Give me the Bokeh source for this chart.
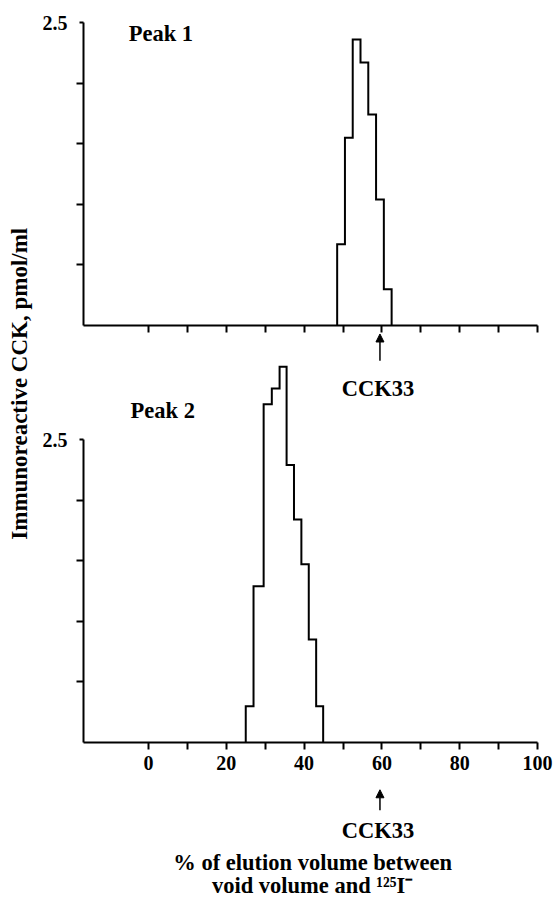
import math
from bokeh.plotting import figure
from bokeh.models import Range1d, LinearAxis, FixedTicker, Label, Arrow, NormalHead
from bokeh.embed import file_html
from bokeh.resources import INLINE

# ---- data ----
peak1_edges = [48.5, 50.5, 52.5, 54.5, 56.5, 58.5, 60.5, 62.5]
peak1_values = [0.67, 1.55, 2.36, 2.17, 1.74, 1.04, 0.30]
peak2_edges = [25.0, 27.0, 29.6, 31.7, 33.7, 35.5, 37.4, 39.3, 41.2, 43.1, 44.9]
peak2_values = [0.30, 1.29, 2.79, 2.92, 3.10, 2.29, 1.84, 1.47, 0.85, 0.30]
cck33_position = 59.5
x_major_ticks = [0, 20, 40, 60, 80, 100]
x_minor_ticks = [10, 30, 50, 70, 90]
x_all_ticks = [0, 10, 20, 30, 40, 50, 60, 70, 80, 90, 100]
y_major_ticks = [2.5]
y_minor_ticks = [0.5, 1.0, 1.5, 2.0]

FONT = "Liberation Serif"
TEXT_SIZE = "22.5px"
X_LEFT = -16.7
PX_X = 3.89     # px per x unit
PX_Y = 121.2    # px per y unit

W, H = 553, 899
# frame == whole canvas; canvas origin at page (0, 0)
x0 = (0 - 148) / PX_X
x1 = (W - 148) / PX_X
yb0 = (742 - H) / PX_Y
yb1 = 742 / PX_Y
yt0 = (325 - H) / PX_Y
yt1 = 325 / PX_Y

p = figure(width=W, height=H, output_backend="svg", toolbar_location=None,
           x_axis_location=None, y_axis_location=None, min_border=0, title=None,
           x_range=Range1d(x0, x1), y_range=Range1d(yb0, yb1))
p.extra_y_ranges = {"top": Range1d(yt0, yt1)}
p.outline_line_color = None
p.background_fill_color = "white"
p.border_fill_color = "white"
p.xgrid.visible = False
p.ygrid.visible = False
for r in list(p.center):
    try:
        r.visible = False
    except Exception:
        pass


def style_axis(ax, major_out, minor_out):
    ax.axis_line_width = 2
    ax.axis_line_color = "black"
    ax.major_tick_line_width = 2
    ax.minor_tick_line_width = 2
    ax.major_tick_line_color = "black"
    ax.minor_tick_line_color = "black"
    ax.major_tick_in = 0
    ax.minor_tick_in = 0
    ax.major_tick_out = major_out
    ax.minor_tick_out = minor_out
    ax.major_label_text_font = FONT
    ax.major_label_text_font_style = "bold"
    ax.major_label_text_font_size = "20px"
    ax.major_label_text_color = "black"


# bottom panel x axis
xb = LinearAxis(ticker=FixedTicker(ticks=x_major_ticks, minor_ticks=x_minor_ticks),
                fixed_location=0, bounds=(X_LEFT, 100))
style_axis(xb, 7, 7)
xb.major_label_standoff = 6
p.add_layout(xb, "below")

# top panel x axis (no labels)
xt = LinearAxis(y_range_name="top", ticker=FixedTicker(ticks=x_all_ticks),
                fixed_location=0, bounds=(X_LEFT, 100))
style_axis(xt, 7, 7)
xt.major_label_text_color = None
p.add_layout(xt, "below")

# y axes
yb = LinearAxis(ticker=FixedTicker(ticks=y_major_ticks, minor_ticks=y_minor_ticks),
                fixed_location=X_LEFT, bounds=(0, 2.5))
style_axis(yb, 4, 7)
yb.major_label_standoff = 9
p.add_layout(yb, "left")

yt = LinearAxis(y_range_name="top",
                ticker=FixedTicker(ticks=y_major_ticks, minor_ticks=y_minor_ticks),
                fixed_location=X_LEFT, bounds=(0, 2.5))
style_axis(yt, 4, 7)
yt.major_label_standoff = 9
p.add_layout(yt, "left")


def step_path(edges, values):
    xs = [edges[0]] + list(edges)
    ys = [0] + list(values) + [0]
    return xs, ys


x1s, y1s = step_path(peak1_edges, peak1_values)
p.step(x1s, y1s, mode="after", y_range_name="top", line_color="black",
       line_width=2, line_join="miter")
x2s, y2s = step_path(peak2_edges, peak2_values)
p.step(x2s, y2s, mode="after", line_color="black", line_width=2, line_join="miter")


def lab(x, y, text, size=TEXT_SIZE, align="left", baseline="middle", angle=0.0, yr="default"):
    p.add_layout(Label(x=x, y=y, text=text, text_font=FONT, text_font_style="bold",
                       text_font_size=size, text_align=align, text_baseline=baseline,
                       angle=angle, y_range_name=yr, text_color="black"))


lab(-5.1, 2.41, "Peak 1", yr="top")
lab(-4.6, 2.74, "Peak 2")
lab(cck33_position - 0.5, -0.52, "CCK33", align="center", yr="top")
lab(cck33_position - 0.5, -0.73, "CCK33", align="center")
lab(42.2, -0.99, "% of elution volume between", align="center")
lab(42.2, -1.18, "void volume and \u00b9\u00b2\u2075I\u207b", align="center")
lab(-33.2, 2.96, "Immunoreactive CCK, pmol/ml", size="23px", align="center", angle=math.pi / 2)

p.add_layout(Arrow(end=NormalHead(size=8, fill_color="black", line_color="black", line_width=1),
                   x_start=cck33_position, y_start=-0.29, x_end=cck33_position, y_end=-0.07,
                   line_width=1.5, line_color="black", y_range_name="top"))
p.add_layout(Arrow(end=NormalHead(size=8, fill_color="black", line_color="black", line_width=1),
                   x_start=cck33_position, y_start=-0.56, x_end=cck33_position, y_end=-0.39,
                   line_width=1.5, line_color="black"))

open("out.html", "w").write(file_html(p, INLINE))
